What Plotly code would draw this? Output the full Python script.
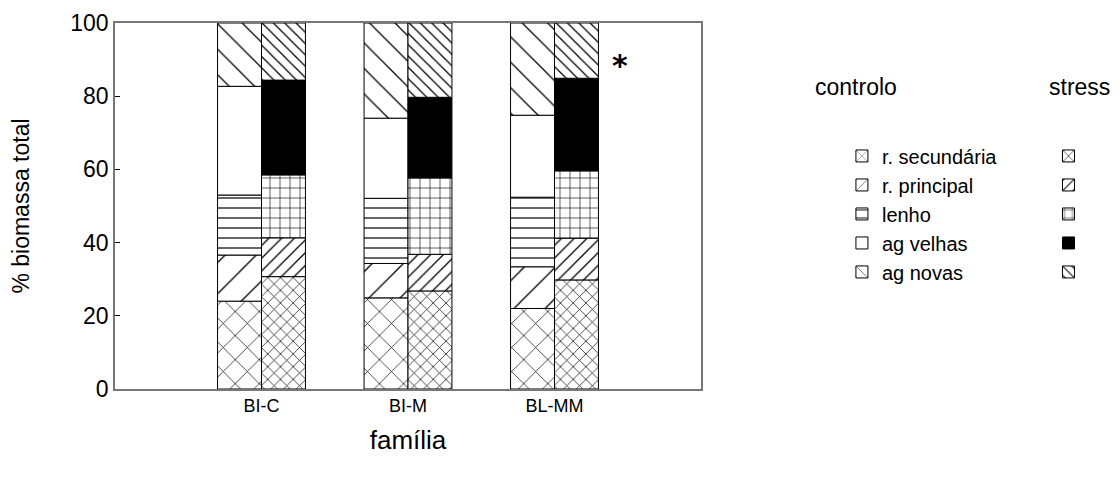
import numpy as np
import plotly.graph_objects as go

familias = ["BI-C", "BI-M", "BL-MM"]
x_pos = [1, 2, 3]
componentes = ["r. secundária", "r. principal", "lenho", "ag velhas", "ag novas"]

# % biomassa total per component (bottom to top)
controlo = {
    "r. secundária": [24.0, 24.9, 22.0],
    "r. principal": [12.6, 9.4, 11.4],
    "lenho": [16.4, 17.8, 19.0],
    "ag velhas": [29.7, 21.9, 22.4],
    "ag novas": [17.3, 26.0, 25.2],
}
stress = {
    "r. secundária": [30.7, 26.8, 29.8],
    "r. principal": [10.6, 10.0, 11.4],
    "lenho": [17.2, 20.9, 18.4],
    "ag velhas": [25.9, 22.0, 25.3],
    "ag novas": [15.6, 20.3, 15.1],
}
y_ticks = [0, 20, 40, 60, 80, 100]

ctrl_style = {
    "r. secundária": dict(shape="x", size=17, solidity=0.08),
    "r. principal": dict(shape="/", size=22, solidity=0.06),
    "lenho": dict(shape="-", size=10, solidity=0.12),
    "ag velhas": None,
    "ag novas": dict(shape="\\", size=18, solidity=0.07),
}
str_style = {
    "r. secundária": dict(shape="x", size=9, solidity=0.15),
    "r. principal": dict(shape="/", size=9, solidity=0.14),
    "lenho": dict(shape="+", size=10, solidity=0.12),
    "ag velhas": None,
    "ag novas": dict(shape="\\", size=8, solidity=0.16),
}

fig = go.Figure()
W = 0.3

def add_group(data, styles, offset, legend, label_names, solid_fill):
    base = np.zeros(len(familias))
    for comp in componentes:
        vals = np.array(data[comp])
        st = styles[comp]
        marker = dict(line=dict(color="black", width=1))
        if st is None:
            marker["color"] = solid_fill
        else:
            marker["color"] = "white"
            marker["pattern"] = dict(st, bgcolor="white", fgcolor="black",
                                     fgopacity=1, fillmode="replace")
        fig.add_trace(go.Bar(
            x=x_pos, y=vals, base=base.copy(), width=W, offset=offset,
            marker=marker, name=comp if label_names else " ",
            legend=legend, showlegend=True,
        ))
        base = base + vals

add_group(controlo, ctrl_style, -W, "legend", True, "white")
add_group(stress, str_style, 0.0, "legend2", False, "black")

fig.add_annotation(x=3.45, y=88.5, text="<b>*</b>", showarrow=False,
                   font=dict(size=30, color="black", family="DejaVu Sans"))
fig.add_annotation(x=1.265, y=0.825, xref="paper", yref="paper", text="controlo",
                   showarrow=False, font=dict(size=23), xanchor="center", yanchor="middle")
fig.add_annotation(x=1.646, y=0.825, xref="paper", yref="paper", text="stress",
                   showarrow=False, font=dict(size=23), xanchor="center", yanchor="middle")

font = "Liberation Sans, Arial, sans-serif"
fig.update_layout(
    width=1104, height=466,
    margin=dict(l=107, r=411, t=15, b=85),
    barmode="overlay",
    plot_bgcolor="white", paper_bgcolor="white",
    font=dict(family=font, color="black", size=20),
    xaxis=dict(range=[0, 4], tickvals=x_pos, ticktext=familias, showgrid=False,
               zeroline=False, showline=True, linecolor="#777", linewidth=1.5,
               mirror=True, ticks="", tickfont=dict(size=18), automargin=False,
               title=dict(text="família", font=dict(size=26), standoff=15)),
    yaxis=dict(range=[0, 100], tickvals=y_ticks, showgrid=False, zeroline=False,
               showline=True, linecolor="#777", linewidth=1.5, mirror=True,
               ticks="inside", ticklen=5, tickcolor="black", automargin=False,
               tickfont=dict(size=23),
               title=dict(text="% biomassa total", font=dict(size=23), standoff=34)),
    legend=dict(x=1.2405, y=0.69, xanchor="left", yanchor="top", traceorder="normal",
                font=dict(size=20), bgcolor="rgba(0,0,0,0)"),
    legend2=dict(x=1.68, y=0.69, xanchor="right", yanchor="top", traceorder="normal",
                 font=dict(size=20), bgcolor="rgba(0,0,0,0)"),
)

fig.write_html("out.html")
